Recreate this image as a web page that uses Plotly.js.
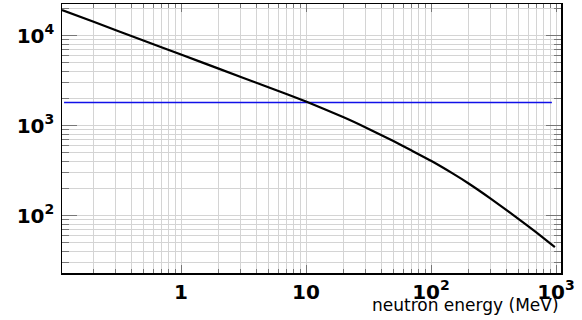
<!DOCTYPE html>
<html>
<head>
<meta charset="utf-8">
<script src="https://cdn.plot.ly/plotly-3.0.1.min.js"></script>
<style>html,body{margin:0;padding:0;background:#fff}#chart{width:582px;height:320px}</style>
</head>
<body>
<div id="chart"></div>
<script>
// neutron energy (MeV) and curve values
var energy = [0.1117, 0.2, 0.5, 1, 2, 5, 10, 20, 30, 50, 70, 100, 150, 200, 300, 500, 700, 980];
var curveValues = [19190, 14190, 8820, 6150, 4290, 2665, 1849, 1236, 954, 674, 529, 407, 293, 228, 155, 92.3, 64.7, 44.9];
// horizontal reference line
var refEnergy = [0.116, 927];
var refValues = [1800, 1800];
var xTitle = 'neutron energy (MeV)';

var gridColor = '#d4d4d4';
var fontFam = 'DejaVu Sans, Verdana, sans-serif';
var traces = [
  {x: refEnergy, y: refValues, mode: 'lines', line: {color: '#1010e8', width: 1.5}, hoverinfo: 'skip'},
  {x: energy, y: curveValues, mode: 'lines', line: {color: '#000000', width: 2.2, shape: 'spline', smoothing: 0.5}}
];
var axisCommon = {
  type: 'log', showline: true, linecolor: '#000', linewidth: 1.5, mirror: 'allticks',
  ticks: 'inside', tickcolor: '#777', tickwidth: 1,
  tickmode: 'linear', tick0: 0, dtick: 1, exponentformat: 'power',
  showgrid: true, gridcolor: gridColor, gridwidth: 1, zeroline: false,
  tickfont: {family: fontFam, size: 16, color: '#000', weight: 'bold'},
  minor: {dtick: 'D1', ticks: 'inside', tickcolor: '#777', showgrid: true, gridcolor: gridColor, gridwidth: 1}
};
var layout = {
  width: 582, height: 320, showlegend: false,
  paper_bgcolor: '#fff', plot_bgcolor: '#fff',
  margin: {l: 62, r: 21, t: 4, b: 47},
  xaxis: Object.assign({}, axisCommon, {range: [-0.952, 3.04], ticklen: 8, ticklabelstandoff: 1,
    minor: Object.assign({}, axisCommon.minor, {ticklen: 4})}),
  yaxis: Object.assign({}, axisCommon, {range: [1.364, 4.35], ticklen: 15, ticklabelstandoff: 3,
    minor: Object.assign({}, axisCommon.minor, {ticklen: 7})}),
  annotations: [{text: xTitle, xref: 'paper', yref: 'paper', x: 1.0, y: -0.118, xanchor: 'right', yanchor: 'middle',
    showarrow: false, font: {family: fontFam, size: 17, color: '#000'}}]
};
Plotly.newPlot('chart', traces, layout, {staticPlot: true});
</script>
</body>
</html>
